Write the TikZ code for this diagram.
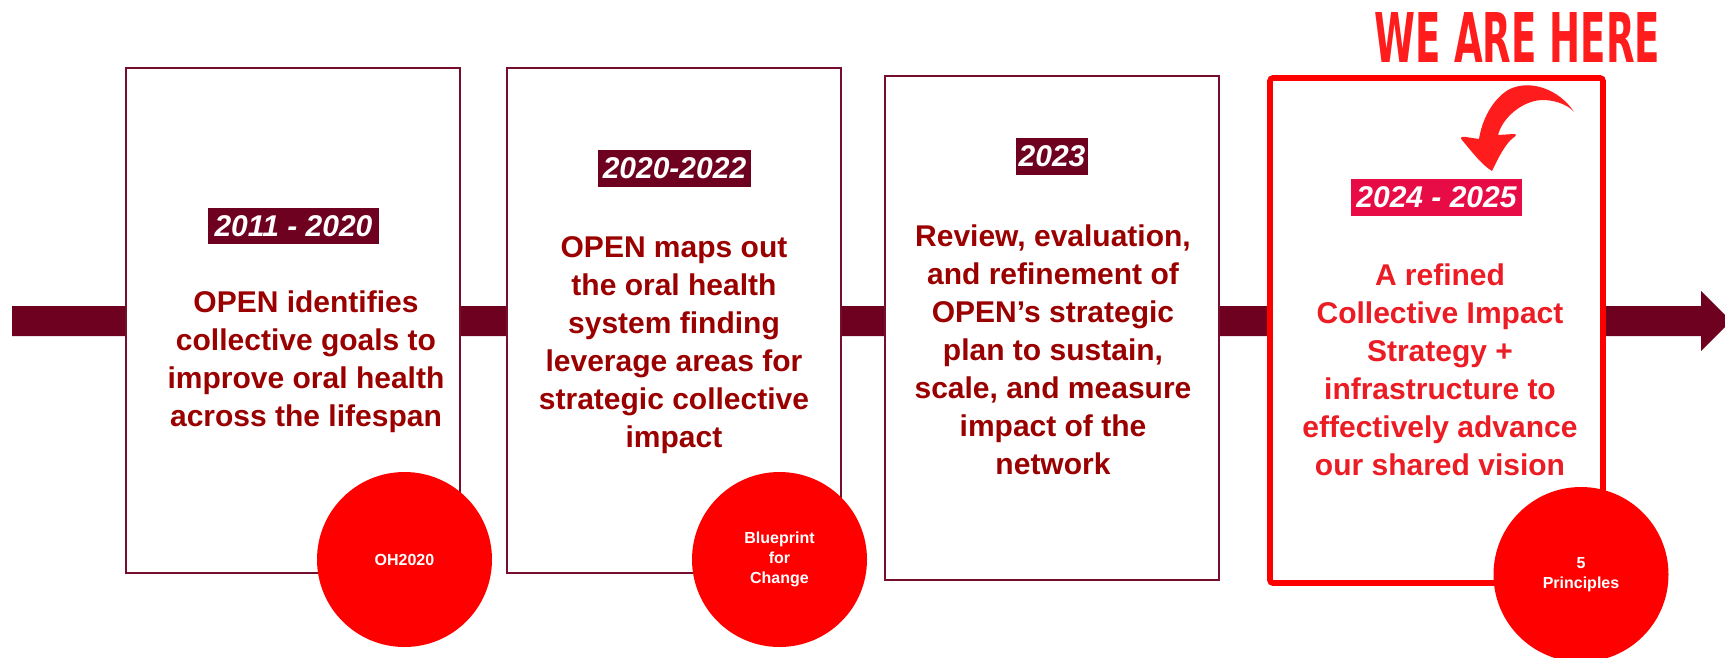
\documentclass[tikz,border=0pt]{standalone}
\usepackage{graphicx}
\usepackage{fontspec}
\setmainfont{Liberation Sans}
\newfontfamily\herefont{DejaVu Sans}
\definecolor{maroon}{RGB}{110,0,32}
\definecolor{boxline}{RGB}{120,14,45}
\definecolor{darkred}{RGB}{155,0,0}
\definecolor{brightred}{RGB}{255,0,0}
\definecolor{herered}{RGB}{255,28,28}
\definecolor{datepink}{RGB}{232,12,70}
\definecolor{textfour}{RGB}{236,28,36}
\begin{document}
\begin{tikzpicture}[x=1pt,y=-1pt,
  stagebox/.style={draw=boxline,line width=2pt,fill=white,inner sep=0pt},
  datelabel/.style={fill=maroon,text=white,inner sep=0pt,font=\fontsize{30}{36}\selectfont\bfseries\itshape},
  bodytext/.style={align=center,text=darkred,inner sep=0pt,font=\fontsize{30}{38}\selectfont\bfseries},
  badge/.style={circle,fill=brightred,minimum size=175pt,inner sep=0pt,align=center,text=white,font=\fontsize{16}{20}\selectfont\bfseries}]
\useasboundingbox (0,0) rectangle (1725,657);
% timeline arrow
\fill[maroon] (12,306) -- (1701,306) -- (1701,291) -- (1731,321) -- (1701,351) -- (1701,336) -- (12,336) -- cycle;
% stage boxes
\node[stagebox,minimum width=333.4pt,minimum height=505pt] (box1) at (293,320.2) {};
\node[stagebox,minimum width=334pt,minimum height=505pt] (box2) at (674,320.2) {};
\node[stagebox,minimum width=334pt,minimum height=504pt] (box3) at (1052,328) {};
\node[stagebox,draw=brightred,line width=5.7pt,rounded corners=3pt,minimum width=333pt,minimum height=505pt] (box4) at (1436.5,330.5) {};
% dates
\node[datelabel,minimum width=171pt,minimum height=36pt] (date1) at (293.5,226) {2011 - 2020};
\node[datelabel,minimum width=153pt,minimum height=37pt] (date2) at (674.5,168.5) {2020-2022};
\node[datelabel,minimum width=72pt,minimum height=37pt] (date3) at (1052,156.5) {2023};
\node[datelabel,fill=datepink,minimum width=171pt,minimum height=37pt] (date4) at (1436.5,197.5) {2024 - 2025};
% body texts
\node[bodytext] (text1) at (306,362) {OPEN identifies\\collective goals to\\improve oral health\\across the lifespan};
\node[bodytext] (text2) at (674,345) {OPEN maps out\\the oral health\\system finding\\leverage areas for\\strategic collective\\impact};
\node[bodytext] (text3) at (1053,349.5) {Review, evaluation,\\and refinement of\\OPEN’s strategic\\plan to sustain,\\scale, and measure\\impact of the\\network};
\node[bodytext,text=textfour] (text4) at (1440,369.5) {A refined\\Collective Impact\\Strategy +\\infrastructure to\\effectively advance\\our shared vision};
% badges
\node[badge] (badge1) at (404.5,559.5) {OH2020};
\node[badge] (badge2) at (779.5,559.5) {Blueprint\\for\\Change};
\node[badge] (badge3) at (1581,574.5) {5\\Principles};
% we are here
\node[text=herered,inner sep=0pt] (here) at (1517.5,37.5) {\resizebox{285pt}{50pt}{\herefont\bfseries WE ARE HERE}};
\fill[herered] (1574,112) .. controls (1560,90) and (1530,78) .. (1508,90)
  .. controls (1492,100) and (1482,120) .. (1479,139) -- (1466,137)
  .. controls (1461,136) and (1460,138) .. (1462,140)
  .. controls (1472,152) and (1482,165) .. (1492,171)
  .. controls (1498,158) and (1506,143) .. (1513,138)
  .. controls (1516,136) and (1517,134) .. (1514,134) -- (1498,135)
  .. controls (1503,116) and (1525,99) .. (1545,100)
  .. controls (1560,101) and (1570,107) .. (1574,112) -- cycle;
\end{tikzpicture}
\end{document}
